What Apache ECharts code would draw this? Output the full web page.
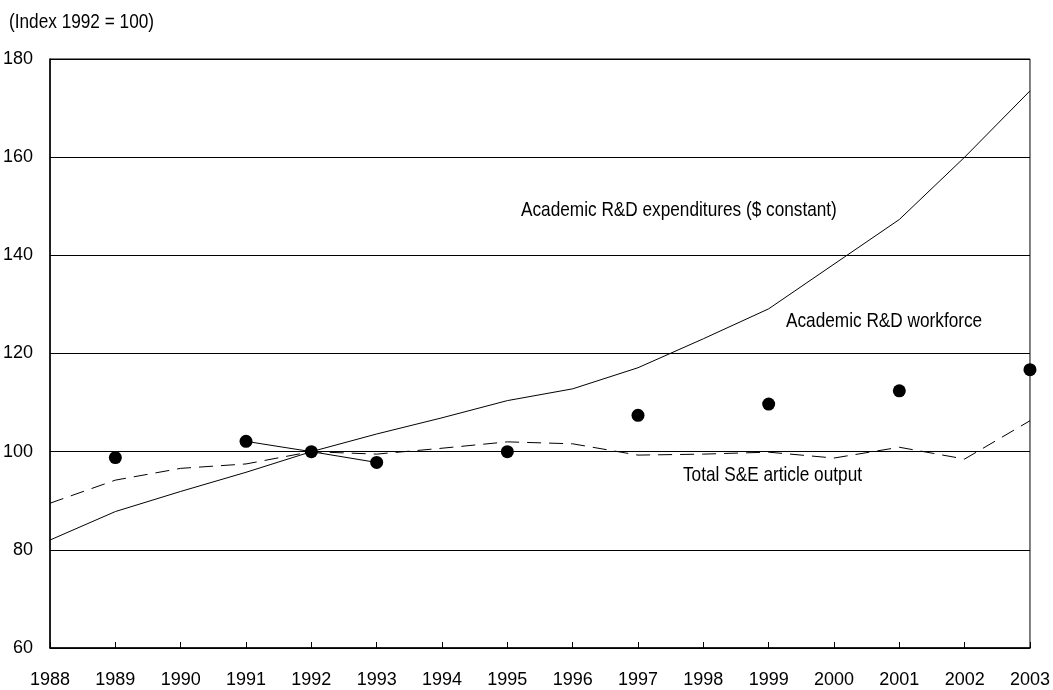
<!DOCTYPE html>
<html>
<head>
<meta charset="utf-8">
<script src="https://cdn.jsdelivr.net/npm/echarts@6/dist/echarts.min.js"></script>
<style>
html,body{margin:0;padding:0;background:#fff;}
#c{width:1053px;height:690px;}
</style>
</head>
<body>
<div id="c"></div>
<script>
var years = [1988,1989,1990,1991,1992,1993,1994,1995,1996,1997,1998,1999,2000,2001,2002,2003];
var expenditures = [82.0,87.8,91.9,95.8,100,103.6,106.9,110.4,112.8,117.1,123.0,129.1,138.2,147.3,160.0,173.5];
var articles = [89.5,94.2,96.6,97.5,100,99.5,100.7,102.0,101.6,99.3,99.5,99.9,98.7,100.9,98.5,106.3];
var workforceYears = [1989,1991,1992,1993,1995,1997,1999,2001,2003];
var workforce = [98.8,102.1,100,97.8,100,107.4,109.7,112.4,116.7];
var yTicks = {min:60, max:180, interval:20};
var xTicks = {min:1988, max:2003, interval:1};
var unitLabel = '(Index 1992 = 100)';
var labelExp = 'Academic R&D expenditures ($ constant)';
var labelWork = 'Academic R&D workforce';
var labelArt = 'Total S&E article output';

var FONT = '"Liberation Sans",Arial,sans-serif';
var NARROW = 0.82;

function pairs(xs, ys){ return xs.map(function(x,i){return [x, ys[i]];}); }
var workPairs = pairs(workforceYears, workforce);
var workLine = workPairs.filter(function(p){return p[0]>=1991 && p[0]<=1993;});

function note(txt, x, y){
  return {type:'text', x:x, y:y, scaleX:NARROW, scaleY:1,
    style:{text:txt, font:'21px '+FONT, fill:'#000', verticalAlign:'middle', align:'left'}};
}

var chart = echarts.init(document.getElementById('c'), null, {renderer:'canvas'});
chart.setOption({
  animation:false,
  backgroundColor:'#fff',
  grid:{left:50, right:20, top:59, bottom:42, show:true, borderColor:'#000', borderWidth:1, backgroundColor:'transparent'},
  xAxis:{
    type:'value', min:xTicks.min, max:xTicks.max, interval:xTicks.interval,
    axisLine:{show:true, lineStyle:{color:'#000', width:1.5}},
    axisTick:{show:true, inside:true, length:6, lineStyle:{color:'#000'}},
    splitLine:{show:false},
    axisLabel:{color:'#000', fontFamily:FONT, fontSize:18, margin:23, formatter:function(v){return String(v);}}
  },
  yAxis:{
    type:'value', min:yTicks.min, max:yTicks.max, interval:yTicks.interval,
    axisLine:{show:true, lineStyle:{color:'#000', width:1.5}},
    axisTick:{show:false},
    splitLine:{show:true, lineStyle:{color:'#000', width:1}},
    axisLabel:{color:'#000', fontFamily:FONT, fontSize:18, margin:17}
  },
  series:[
    {type:'line', data:pairs(years, expenditures), showSymbol:false, symbol:'none',
     lineStyle:{color:'#000', width:1}},
    {type:'line', data:pairs(years, articles), showSymbol:false, symbol:'none',
     lineStyle:{color:'#000', width:1, type:[14,8]}},
    {type:'line', data:workLine, showSymbol:false, symbol:'none',
     lineStyle:{color:'#000', width:1}},
    {type:'scatter', data:workPairs, symbol:'circle', symbolSize:13, clip:false,
     itemStyle:{color:'#000', opacity:1}}
  ],
  graphic:[
    note(unitLabel, 9, 22),
    note(labelExp, 521, 210),
    note(labelWork, 786, 321),
    note(labelArt, 683, 475)
  ]
});
</script>
</body>
</html>
